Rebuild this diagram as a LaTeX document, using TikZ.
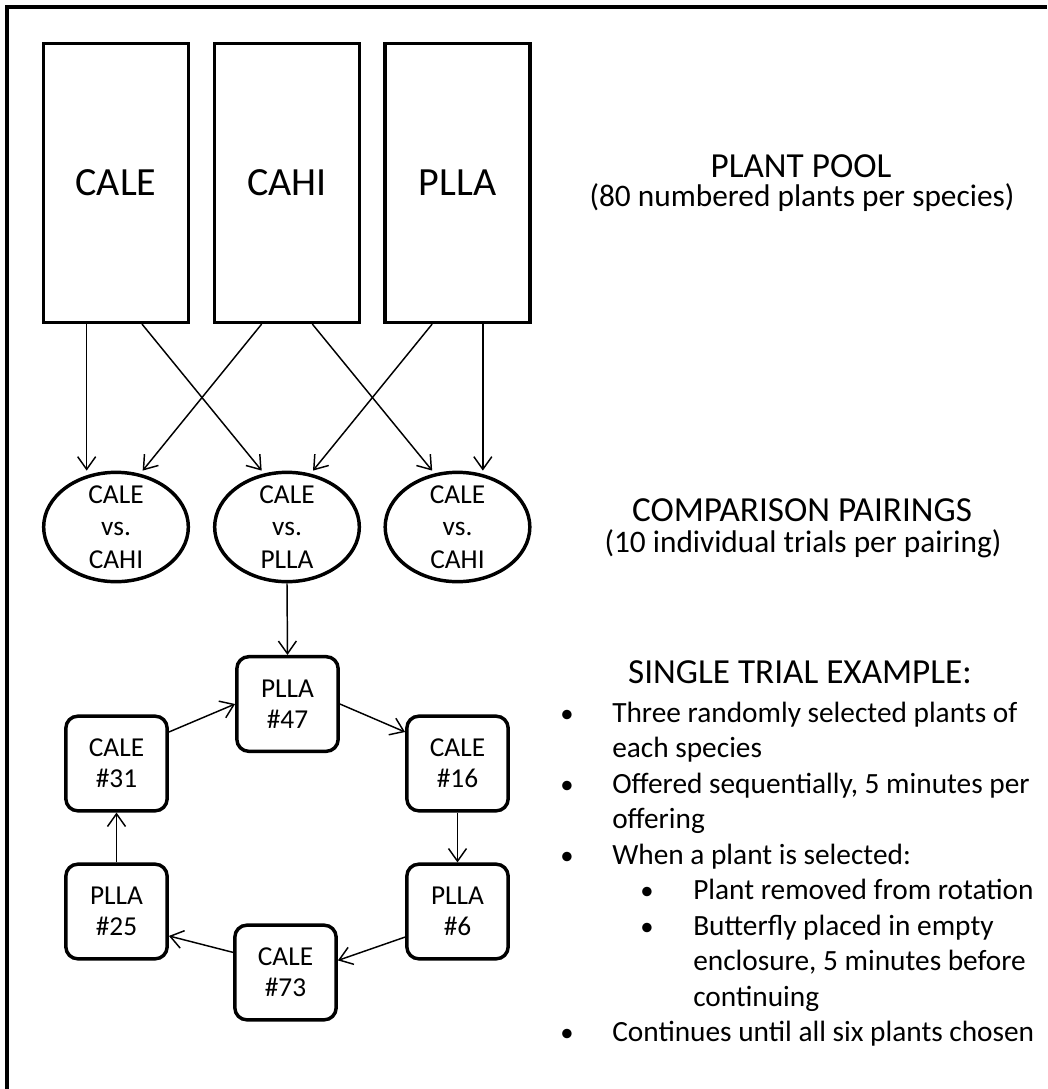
\documentclass[tikz,border=0pt]{standalone}
\usepackage{fontspec}
\setmainfont{Carlito}
\usetikzlibrary{arrows.meta,shapes.geometric}
\tikzset{
    pool/.style={draw, line width=2.6pt, minimum width=108.5pt, minimum height=209pt,
        inner sep=0pt, font=\fontsize{30pt}{36pt}\selectfont},
    pairing/.style={ellipse, draw, line width=2.6pt, minimum width=108.5pt, minimum height=82pt,
        inner xsep=0pt, inner ysep=-6pt, align=center, font=\fontsize{20.5pt}{24.4pt}\selectfont},
    plant/.style={draw, line width=2.6pt, rounded corners=9pt, minimum width=76pt, minimum height=71pt,
        inner sep=0pt, align=center, font=\fontsize{20.5pt}{23.25pt}\selectfont},
    arr/.style={-{Straight Barb[length=9.5pt,width=13.5pt]}, line width=1.1pt},
    heading/.style={anchor=base, inner sep=0pt, font=\fontsize{26.4pt}{30pt}\selectfont},
    subhead/.style={anchor=base, inner sep=0pt, font=\fontsize{23.5pt}{27pt}\selectfont},
    note/.style={anchor=base west, inner sep=0pt, font=\fontsize{22pt}{26pt}\selectfont},
    bullet/.style={anchor=base, inner sep=0pt, font=\fontsize{20pt}{24pt}\selectfont}
}

\begin{document}
\begin{tikzpicture}[x=0.75pt,y=-0.75pt]
\useasboundingbox (0,0) rectangle (1047,1089);
\fill[white] (0,0) rectangle (1047,1089);
% frame
\draw[line width=3pt] (7,1089) -- (7,7) -- (1047,7);

% plant pool
\node[pool] (cale) at (116,183) {CALE};
\node[pool] (cahi) at (287,183) {CAHI};
\node[pool] (plla) at (457.5,183) {PLLA};

% comparison pairings
\node[pairing] (calecahi) at (116,527) {CALE\\vs.\\CAHI};
\node[pairing] (caleplla) at (287,527) {CALE\\vs.\\PLLA};
\node[pairing] (calecahib) at (457.5,527) {CALE\\vs.\\CAHI};

\draw[arr] ([xshift=-22pt]cale.south) -- ([xshift=-22pt]calecahi.north);
\draw[arr] ([xshift=19.5pt]cale.south) -- ([xshift=-19pt]caleplla.north);
\draw[arr] ([xshift=-19pt]cahi.south) -- ([xshift=20pt]calecahi.north);
\draw[arr] ([xshift=19pt]cahi.south) -- ([xshift=-19pt]calecahib.north);
\draw[arr] ([xshift=-19pt]plla.south) -- ([xshift=19.5pt]caleplla.north);
\draw[arr] ([xshift=19pt]plla.south) -- ([xshift=19pt]calecahib.north);

% single trial
\node[plant] (p47) at (287.5,704) {PLLA\\\#47};
\node[plant] (c16) at (457.5,763.5) {CALE\\\#16};
\node[plant] (p6) at (457.5,911.5) {PLLA\\\#6};
\node[plant] (c73) at (285.5,972.5) {CALE\\\#73};
\node[plant] (p25) at (116.5,911.5) {PLLA\\\#25};
\node[plant] (c31) at (116.5,763.5) {CALE\\\#31};

\draw[arr] (caleplla.south) -- (p47.north);
\foreach \a/\b in {c31.31/p47.west, p47.east/c16.149, c16.south/p6.north,
                   p6.206/c73.13, c73.159/p25.335, p25.north/c31.south}
    \draw[arr] (\a) -- (\b);

% text on the right
\node[heading] (pooltitle) at (801,177) {PLANT POOL};
\node[subhead] (poolnote) at (802,206) {(80 numbered plants per species)};
\node[heading] (pairtitle) at (802,521) {COMPARISON PAIRINGS};
\node[subhead] (pairnote) at (803,552) {(10 individual trials per pairing)};
\node[heading] (trialtitle) at (800,683) {SINGLE TRIAL EXAMPLE:};

\foreach \x/\y [count=\i] in {567/722, 567/793, 567/864, 647/899.5, 647/935, 567/1041.5}
    \node[bullet] (dot\i) at (\x,\y) {•};
\foreach \x/\y/\t [count=\i] in {612/722/Three randomly selected plants of,
        612/757.5/each species,
        612/793/{Offered sequentially, 5 minutes per},
        612/828.5/offering,
        612/864/When a plant is selected:,
        693/899.5/Plant removed from rotation,
        693/935/Butterfly placed in empty,
        693/970.5/{enclosure, 5 minutes before},
        693/1006/continuing,
        612/1041.5/Continues until all six plants chosen}
    \node[note] (line\i) at (\x,\y) {\t};
\end{tikzpicture}
\end{document}
